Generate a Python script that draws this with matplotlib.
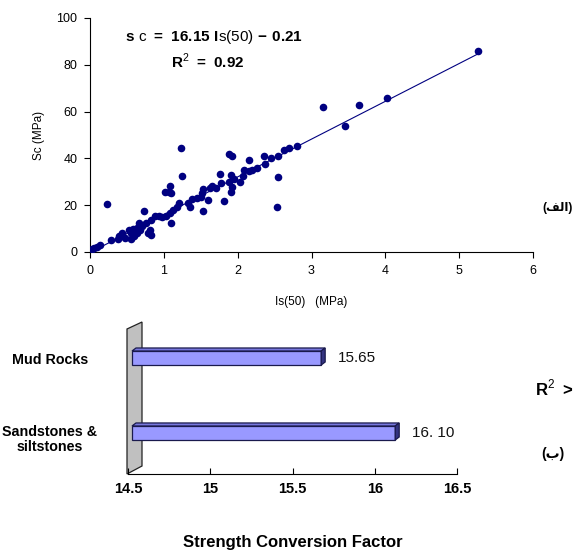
import matplotlib
matplotlib.use("Agg")
import matplotlib.pyplot as plt
from matplotlib.patches import Polygon

plt.rcParams['font.family'] = ['Liberation Sans', 'DejaVu Sans']
plt.rcParams['mathtext.fontset'] = 'custom'
plt.rcParams['mathtext.rm'] = 'Liberation Sans'
plt.rcParams['mathtext.bf'] = 'Liberation Sans:bold'

# point load index Is(50) vs uniaxial strength Sc (MPa)
is50 = [5.25, 4.02, 3.65, 3.16, 3.46, 2.80, 2.69, 2.63, 2.54, 2.53, 2.55, 2.45,
        2.36, 2.37, 2.26, 2.16, 2.16, 2.08, 2.07, 2.03, 1.88, 1.93, 1.91, 1.95,
        1.88, 1.93, 1.91, 1.76, 1.78, 1.81, 1.65, 1.63, 1.60, 1.53, 1.52, 1.50,
        1.53, 1.38, 1.33, 1.35, 1.23, 1.24, 1.21, 1.18, 1.13, 1.08, 1.10, 1.03,
        1.09, 1.07, 1.10, 1.01, 0.93, 0.88, 0.83, 0.82, 0.73, 0.76, 0.71, 0.68,
        0.66, 0.63, 0.58, 0.56, 0.53, 0.56, 0.59, 0.64, 0.23, 0.43, 0.39, 0.38,
        0.28, 0.48, 0.14, 0.09, 0.03, 0.06, 0.78, 0.81, 1.45, 1.70, 2.20, 0.98]
sc = [86.1, 66.0, 62.7, 62.0, 54.0, 45.4, 44.3, 43.7, 31.9, 19.4, 41.1, 40.0,
      41.1, 37.4, 35.7, 34.8, 39.4, 35.0, 32.6, 30.0, 41.7, 41.1, 32.9, 31.2,
      30.0, 27.9, 25.8, 33.2, 29.6, 21.6, 28.2, 27.2, 22.3, 26.8, 25.1, 23.7,
      17.7, 22.6, 20.9, 19.4, 44.3, 32.6, 20.9, 19.4, 18.0, 16.6, 12.6, 15.2,
      28.4, 25.8, 25.4, 25.5, 15.2, 15.2, 13.8, 7.2, 17.7, 12.3, 10.9, 9.5,
      12.3, 10.2, 9.8, 8.1, 9.5, 5.5, 6.7, 8.1, 20.4, 8.1, 6.9, 5.5,
      5.2, 6.1, 2.8, 2.1, 1.4, 1.7, 8.1, 9.5, 23.0, 27.5, 35.0, 15.0]
fit_slope = 16.15
fit_icpt = -0.21
fit_x = [0.0, 5.25]

# strength conversion factor per rock group
groups = ["Sandstones &\nsiltstones", "Mud Rocks"]
factors = [16.10, 15.65]
factor_labels = ["16. 10", "15.65"]

fig = plt.figure(figsize=(5.77, 5.53), dpi=100)

# ---- top: scatter with regression line
ax = fig.add_axes([90/577, 1-252/553, 443/577, 234/553])
ax.scatter(is50, sc, s=30, color="#000080", zorder=3, linewidths=0)
ax.plot(fit_x, [fit_slope*x + fit_icpt for x in fit_x], color="#000080", lw=0.8)
ax.set_xlim(0, 6)
ax.set_ylim(0, 100)
ax.set_xticks(range(0, 7))
ax.set_yticks(range(0, 101, 20))
for s in ["top", "right"]:
    ax.spines[s].set_visible(False)
ax.tick_params(direction="out", length=4, labelsize=9, pad=5)
ax.set_ylabel("Sc (MPa)", fontsize=8.5, labelpad=8)
ax.set_xlabel("Is(50)   (MPa)", fontsize=8.5, labelpad=14)
ax.text(0.28, 0.92, r"$\mathbf{s}\ \mathrm{c}\ \mathbf{=\ 16.15\ I}\mathrm{s(50)}\ \mathbf{-\ 0.21}$",
        transform=ax.transAxes, ha="center", va="center", fontsize=11)
ax.text(0.265, 0.815, r"$\mathbf{R}^{\mathrm{2}}\mathbf{\ =\ 0.92}$",
        transform=ax.transAxes, ha="center", va="center", fontsize=11)

fig.text(558/577, 1-208/553, "(\ufed2\ufedf\ufe8d)", ha="center", va="center",
         fontsize=8.5, fontweight="bold")

# ---- bottom: pseudo-3D horizontal bars
bx = fig.add_axes([128/577, 1-474/553, 329/577, 152/553])
x0 = 14.5
bx.set_xlim(14.5, 16.5)
bx.set_ylim(-0.547, 1.48)
pxx = 2.0 / 329
pxy = (1.48 + 0.547) / 152
dx, dy = 4*pxx, 3*pxy
h = 0.187

# side wall
wall = Polygon([(x0 - 1*pxx, -0.547), (x0 + 14*pxx, -0.547 + 8*pxy),
                (x0 + 14*pxx, 1.48), (x0 - 1*pxx, 1.48 - 7*pxy)],
               closed=True, facecolor="#c0c0c0", edgecolor="#222222", lw=0.9,
               clip_on=False, zorder=1)
bx.add_patch(wall)

bx.barh(range(len(groups)), [f - x0 for f in factors], left=x0 + dx, height=h,
        color="#9999ff", edgecolor="#1a1a4d", lw=0.9, zorder=3)
for i, f in enumerate(factors):
    top = Polygon([(x0 + dx, i + h/2), (f + dx, i + h/2),
                   (f + 2*dx, i + h/2 + dy), (x0 + 2*dx, i + h/2 + dy)],
                  closed=True, facecolor="#7777dd", edgecolor="#1a1a4d", lw=0.9, zorder=3)
    side = Polygon([(f + dx, i - h/2), (f + 2*dx, i - h/2 + dy),
                    (f + 2*dx, i + h/2 + dy), (f + dx, i + h/2)],
                   closed=True, facecolor="#333380", edgecolor="#1a1a4d", lw=0.9, zorder=3)
    bx.add_patch(top)
    bx.add_patch(side)
    bx.text(f + dx + 17*pxx, i, factor_labels[i], ha="left", va="center",
            fontsize=11, color="#111111")

for i, g in enumerate(groups):
    fig.text(50/577, 1-(434.5 - 75*i + (5 if i == 0 else 0))/553, g, ha="center",
             va="center", fontsize=10.3, fontweight="bold", linespacing=1.05)

bx.set_yticks([])
for s in ["top", "right", "left"]:
    bx.spines[s].set_visible(False)
bx.set_xticks([14.5, 15, 15.5, 16, 16.5])
bx.set_xticklabels(["14.5", "15", "15.5", "16", "16.5"], fontweight="bold")
bx.tick_params(axis="x", direction="in", length=4, labelsize=10.5, pad=6)
bx.set_xlabel("Strength Conversion Factor", fontsize=12, fontweight="bold", labelpad=28)

fig.text(554/577, 1-388/553, r"$\mathbf{R}^{\mathrm{2}}\mathbf{\ >}$", ha="center",
         va="center", fontsize=12)
fig.text(553/577, 1-454/553, "(\ufe8f)", ha="center", va="center",
         fontsize=10, fontweight="bold")

fig.savefig("out.png", dpi=100)
